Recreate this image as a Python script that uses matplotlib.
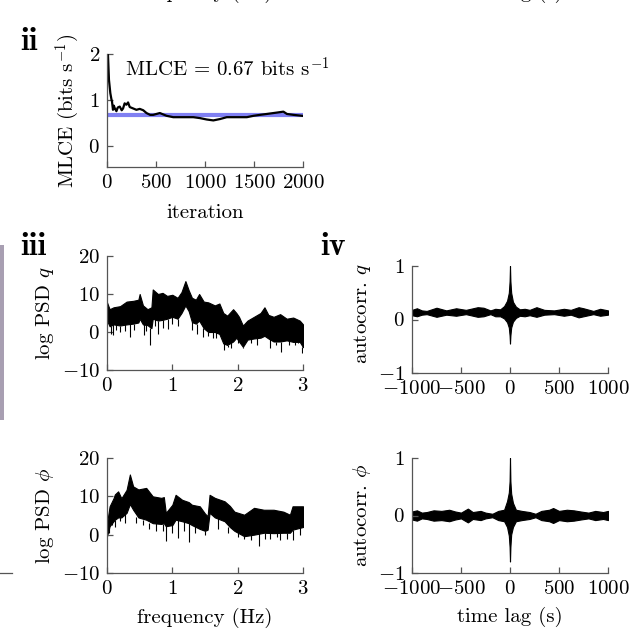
import matplotlib
matplotlib.use("Agg")
import matplotlib.pyplot as plt
from matplotlib.patches import Rectangle
from matplotlib.lines import Line2D

# ---- data ----
# panel ii: MLCE convergence
mlce_iter = [0, 10, 20, 34, 45, 51, 61, 70, 78, 96, 110, 130, 150, 164, 180, 198,
             215, 232, 266, 300, 334, 370, 403, 440, 471, 539, 608, 676, 778, 881,
             949, 1017, 1085, 1154, 1222, 1290, 1358, 1427, 1495, 1560, 1631, 1734,
             1800, 1836, 1904, 1990]
mlce_val = [2.0, 1.98, 1.44, 1.15, 1.02, 0.97, 0.79, 0.88, 0.83, 0.76, 0.84, 0.86,
            0.78, 0.82, 0.93, 0.9, 0.95, 0.85, 0.82, 0.79, 0.81, 0.78, 0.72, 0.68,
            0.68, 0.72, 0.66, 0.63, 0.63, 0.63, 0.61, 0.58, 0.56, 0.59, 0.63, 0.63,
            0.63, 0.63, 0.66, 0.68, 0.7, 0.73, 0.75, 0.7, 0.68, 0.66]
mlce_final = 0.67

# panel iii: log PSD of q (envelope of the dense trace)
psd_q_freq = [0.0, 0.04, 0.1, 0.2, 0.3, 0.4, 0.48, 0.5, 0.55, 0.62, 0.68, 0.7, 0.78,
              0.85, 0.92, 1.0, 1.08, 1.14, 1.2, 1.25, 1.3, 1.36, 1.41, 1.48, 1.55,
              1.65, 1.72, 1.78, 1.84, 1.93, 1.98, 2.02, 2.08, 2.15, 2.25, 2.35, 2.41,
              2.47, 2.55, 2.65, 2.75, 2.85, 2.95, 3.0]
psd_q_upper = [7.8, 6.0, 6.5, 6.8, 8.0, 8.2, 8.5, 10.0, 7.0, 6.0, 6.5, 11.2, 10.0,
               10.3, 9.5, 9.8, 9.0, 10.5, 13.4, 11.0, 9.0, 8.5, 10.0, 8.0, 7.8, 7.0,
               7.5, 5.0, 4.3, 6.0, 5.0, 4.0, 1.7, 3.0, 4.0, 5.0, 6.5, 4.5, 4.0, 4.7,
               3.5, 3.8, 3.0, 2.0]
psd_q_lower = [3.0, 1.5, 2.0, 1.7, 2.0, 2.2, 2.5, 3.5, 2.0, 1.8, 1.0, 3.5, 3.0, 3.2,
               3.5, 4.0, 3.5, 5.0, 7.0, 5.5, 2.6, 2.2, 3.0, 1.0, 0.0, 0.0, -0.5, -3.0,
               -3.4, -2.5, -1.5, -2.5, -3.9, -2.0, -1.7, -1.5, -1.0, -1.7, -2.5, -2.5,
               -2.2, -2.6, -2.6, -4.0]
psd_q_spike_freq = [0.06, 0.09, 0.14, 0.2, 0.27, 0.35, 0.42, 0.56, 0.6, 0.66, 0.74,
                    0.78, 0.86, 0.93, 1.0, 1.09, 1.3, 1.38, 1.47, 1.55, 1.62, 1.67,
                    1.79, 1.85, 1.9, 2.0, 2.08, 2.2, 2.3, 2.49, 2.58, 2.67, 2.78, 2.87,
                    2.93, 2.98]
psd_q_spike_min = [-0.5, -0.9, 0.5, 0.0, 0.3, -1.3, 0.5, -0.9, 0.2, -3.4, 1.5, -0.5,
                   1.0, 0.9, 2.0, 1.7, 0.5, -0.5, -1.3, -1.0, -1.5, -1.7, -4.7, -4.0,
                   -4.3, -3.0, -4.3, -3.0, -3.5, -4.3, -3.5, -5.2, -3.5, -3.4, -3.0,
                   -5.6]

# panel v: log PSD of phi
psd_phi_freq = [0.0, 0.04, 0.1, 0.12, 0.17, 0.22, 0.3, 0.35, 0.4, 0.48, 0.6, 0.7,
                0.83, 0.87, 0.9, 1.0, 1.05, 1.15, 1.25, 1.3, 1.42, 1.5, 1.54, 1.57,
                1.65, 1.8, 1.88, 1.95, 2.1, 2.25, 2.4, 2.55, 2.7, 2.8, 2.84, 3.0]
psd_phi_upper = [3.0, 7.4, 9.5, 10.5, 11.3, 9.5, 11.7, 15.7, 12.6, 11.8, 12.2, 10.0,
                 9.6, 9.8, 5.7, 7.8, 10.4, 9.1, 8.5, 7.8, 7.4, 5.5, 4.8, 10.4, 9.6,
                 8.7, 7.5, 6.0, 5.2, 7.0, 6.5, 6.5, 6.0, 5.2, 7.4, 7.4]
psd_phi_lower = [-0.4, 2.2, 3.5, 3.9, 4.5, 4.5, 5.7, 8.0, 6.5, 4.5, 3.9, 3.0, 2.8,
                 3.0, 2.2, 2.5, 3.9, 3.5, 3.0, 2.5, 1.5, 1.0, 1.3, 5.7, 4.5, 3.5, 2.0,
                 1.0, -0.4, 0.0, 0.5, 0.4, 0.5, 0.5, 1.3, 2.0]
psd_phi_spike_freq = [0.03, 0.08, 0.12, 0.2, 0.28, 0.45, 0.55, 0.65, 0.75, 0.85, 0.91,
                      1.0, 1.09, 1.18, 1.25, 1.35, 1.5, 1.7, 1.85, 2.0, 2.1, 2.21, 2.33,
                      2.42, 2.5, 2.6, 2.65, 2.75, 2.85, 2.95]
psd_phi_spike_min = [0.5, 2.5, 2.0, 3.5, 3.0, 3.0, 2.5, 1.5, 1.0, 1.0, -1.7, 0.5, -0.8,
                     1.0, -1.9, 0.5, 0.0, 1.5, 0.5, -0.5, -1.0, -1.5, -3.0, -1.0, -1.0,
                     -0.5, -1.3, -1.0, -1.5, 0.0]

# panel iv: autocorrelation of q
ac_q_lag = [-1000, -950, -900, -850, -750, -650, -550, -450, -330, -270, -200, -150,
            -100, -60, -30, -12, -4, 0, 4, 12, 30, 60, 100, 150, 200, 270, 350, 450,
            550, 620, 700, 750, 850, 920, 1000]
ac_q_upper = [0.18, 0.21, 0.17, 0.16, 0.22, 0.17, 0.21, 0.18, 0.23, 0.22, 0.17, 0.2,
              0.19, 0.25, 0.35, 0.5, 0.72, 1.0, 0.72, 0.5, 0.33, 0.24, 0.19, 0.2,
              0.18, 0.23, 0.18, 0.17, 0.2, 0.18, 0.23, 0.21, 0.16, 0.2, 0.17]
ac_q_lower = [0.08, 0.06, 0.09, 0.1, 0.05, 0.09, 0.07, 0.1, 0.05, 0.06, 0.1, 0.06,
              0.06, 0.02, -0.05, -0.15, -0.3, -0.45, -0.3, -0.15, -0.04, 0.03, 0.07,
              0.06, 0.08, 0.05, 0.09, 0.1, 0.07, 0.09, 0.04, 0.06, 0.1, 0.07, 0.09]

# panel vi: autocorrelation of phi
ac_phi_lag = [-1000, -950, -900, -850, -780, -700, -620, -560, -500, -430, -380, -300,
              -250, -180, -120, -60, -30, -12, -4, 0, 4, 12, 30, 60, 120, 200, 260,
              320, 400, 440, 500, 580, 650, 720, 800, 870, 950, 1000]
ac_phi_upper = [0.07, 0.09, 0.05, 0.06, 0.09, 0.08, 0.1, 0.07, 0.05, 0.12, 0.06, 0.08,
                0.05, 0.03, 0.08, 0.1, 0.25, 0.4, 0.6, 1.0, 0.6, 0.38, 0.22, 0.1, 0.08,
                0.06, 0.03, 0.08, 0.1, 0.13, 0.08, 0.1, 0.09, 0.07, 0.05, 0.08, 0.06,
                0.08]
ac_phi_lower = [-0.07, -0.09, -0.05, -0.06, -0.09, -0.08, -0.1, -0.07, -0.05, -0.12,
                -0.06, -0.08, -0.05, -0.03, -0.08, -0.1, -0.2, -0.35, -0.55, -0.8,
                -0.55, -0.33, -0.2, -0.1, -0.08, -0.06, -0.03, -0.08, -0.1, -0.13,
                -0.08, -0.1, -0.09, -0.07, -0.05, -0.08, -0.06, -0.08]

# ---- style ----
plt.rcParams["font.family"] = "cmr10"
plt.rcParams["mathtext.fontset"] = "cm"
plt.rcParams["axes.unicode_minus"] = False
plt.rcParams["axes.formatter.use_mathtext"] = True
plt.rcParams["font.size"] = 15

W, H = 635, 636
fig = plt.figure(figsize=(W / 100, H / 100), dpi=100)


def px_axes(left, right, top, bottom):
    # axes rectangle given in pixel edges of the output image
    return fig.add_axes([left / W, 1 - bottom / H, (right - left) / W, (bottom - top) / H])


def style(ax):
    for s in ("top", "right"):
        ax.spines[s].set_visible(False)
    for s in ("left", "bottom"):
        ax.spines[s].set_color("#555555")
        ax.spines[s].set_linewidth(0.9)
    ax.tick_params(direction="in", length=4.5, width=0.9, color="#555555",
                   labelsize=15, pad=5)


ax2 = px_axes(107, 303, 54, 167)
ax3 = px_axes(107, 303, 256, 370)
ax4 = px_axes(412, 608, 266, 373)
ax5 = px_axes(107, 303, 458, 573)
ax6 = px_axes(412, 608, 458, 573)

# panel ii
ax2.axhline(mlce_final, color="#8080f2", lw=3, zorder=1)
ax2.plot(mlce_iter, mlce_val, color="black", lw=1.6, zorder=2)
ax2.set_xlim(0, 2000)
ax2.set_ylim(-0.45, 2)
ax2.set_xticks([0, 500, 1000, 1500, 2000])
ax2.set_yticks([0, 1, 2])
ax2.text(184, 1.5, r"MLCE = 0.67 bits s$^{-1}$", ha="left", va="baseline", fontsize=15)
ax2.set_xlabel("iteration")
ax2.set_ylabel(r"MLCE (bits s$^{-1}$)")
ax2.xaxis.set_label_coords(0.5, -0.41)
ax2.yaxis.set_label_coords(-0.2, 0.5)

# PSD panels
for ax, f, up, lo, sf, sm, lab in [
        (ax3, psd_q_freq, psd_q_upper, psd_q_lower, psd_q_spike_freq, psd_q_spike_min,
         r"log PSD $q$"),
        (ax5, psd_phi_freq, psd_phi_upper, psd_phi_lower, psd_phi_spike_freq,
         psd_phi_spike_min, r"log PSD $\phi$")]:
    ax.fill_between(f, lo, up, color="black", lw=0.8)
    base = [lo[min(range(len(f)), key=lambda i: abs(f[i] - x))] for x in sf]
    ax.vlines(sf, sm, base, color="black", lw=0.8)
    ax.set_xlim(0, 3)
    ax.set_ylim(-10, 20)
    ax.set_xticks([0, 1, 2, 3])
    ax.set_yticks([-10, 0, 10, 20])
    ax.set_ylabel(lab)
    ax.yaxis.set_label_coords(-0.316, 0.5)

ax5.set_xlabel("frequency (Hz)")
ax5.xaxis.set_label_coords(0.5, -0.39)

# autocorrelation panels
for ax, lag, up, lo, lab in [(ax4, ac_q_lag, ac_q_upper, ac_q_lower, r"autocorr. $q$"),
                             (ax6, ac_phi_lag, ac_phi_upper, ac_phi_lower,
                              r"autocorr. $\phi$")]:
    ax.fill_between(lag, lo, up, color="black", lw=0.8)
    ax.set_xlim(-1000, 1000)
    ax.set_ylim(-1, 1)
    ax.set_xticks([-1000, -500, 0, 500, 1000])
    ax.set_yticks([-1, 0, 1])
    ax.set_ylabel(lab)

ax4.yaxis.set_label_coords(-0.255, 0.55)
ax6.yaxis.set_label_coords(-0.255, 0.5)
ax6.set_xlabel("time lag (s)")
ax6.xaxis.set_label_coords(0.5, -0.385)

for ax in (ax2, ax3, ax4, ax5, ax6):
    style(ax)
    ax.xaxis.label.set_va("center")
    ax.yaxis.label.set_va("center")

# panel letters
fig.text(20 / W, 1 - 50 / H, "ii", fontfamily="cmb10", fontsize=23, va="baseline")
fig.text(20 / W, 1 - 255 / H, "iii", fontfamily="cmb10", fontsize=23, va="baseline")
fig.text(320 / W, 1 - 255 / H, "iv", fontfamily="cmb10", fontsize=23, va="baseline")

# bits of neighbouring panels cut off by the crop
fig.text(205 / W, 1 + 2 / H, "frequency (Hz)", ha="center", va="baseline", fontsize=15)
fig.text(510 / W, 1 + 2 / H, "time lag (s)", ha="center", va="baseline", fontsize=15)
fig.add_artist(Rectangle((0, 1 - 420 / H), 4 / W, 175 / H, transform=fig.transFigure,
                         color="#a89fb2", lw=0))
fig.add_artist(Line2D([0, 12 / W], [1 - 573 / H, 1 - 573 / H], transform=fig.transFigure,
                      color="#555555", lw=0.9))

fig.savefig("out.png", dpi=100)
